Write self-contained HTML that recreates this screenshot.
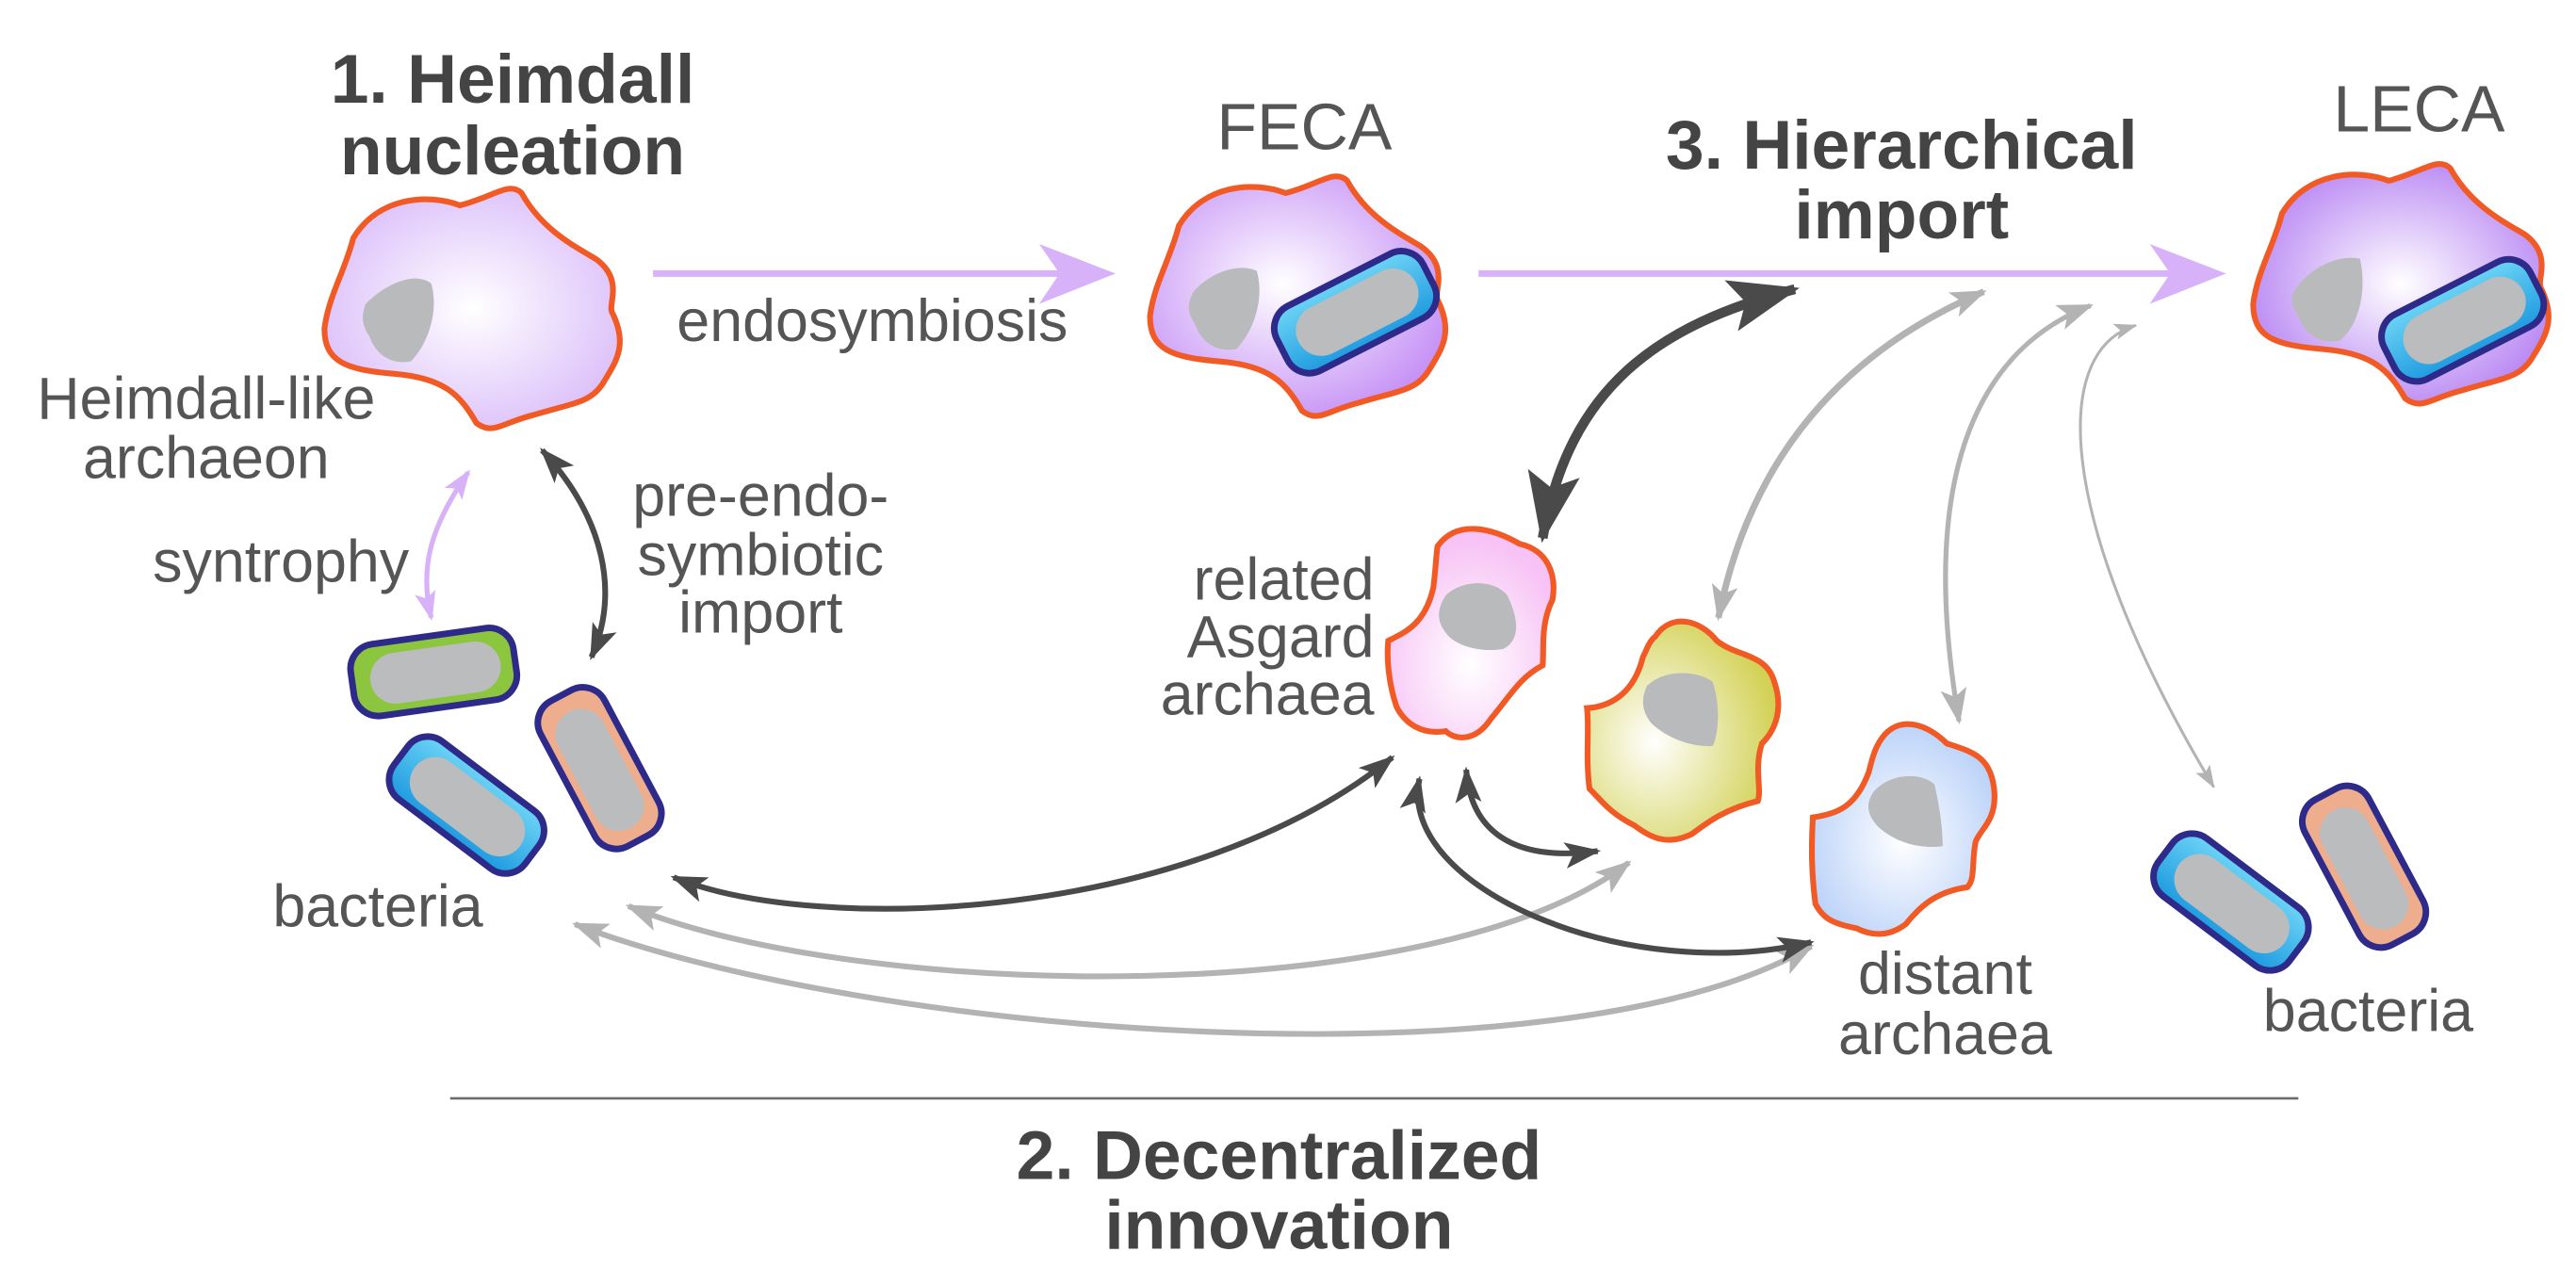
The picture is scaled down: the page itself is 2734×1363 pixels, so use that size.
<!DOCTYPE html>
<html><head><meta charset="utf-8"><style>
html,body{margin:0;padding:0;background:#fff;}
svg{display:block;}
text{font-family:"Liberation Sans",Arial,sans-serif;fill:#4a4a4a;}
.b{font-weight:bold;font-size:84px;fill:#444;}
.l{font-size:72px;fill:#555;}
</style></head><body>
<svg width="2734" height="1363" viewBox="0 0 3136 1563" preserveAspectRatio="none" xmlns="http://www.w3.org/2000/svg">
<defs>
<radialGradient id="gH" cx="50%" cy="50%" r="55%"><stop offset="0" stop-color="#ffffff"/><stop offset="1" stop-color="#dcc0fa"/></radialGradient>
<radialGradient id="gF" cx="45%" cy="45%" r="60%"><stop offset="0" stop-color="#ffffff"/><stop offset="1" stop-color="#c692f6"/></radialGradient>
<radialGradient id="gL" cx="50%" cy="50%" r="60%"><stop offset="0" stop-color="#ffffff"/><stop offset="1" stop-color="#b27cf2"/></radialGradient>
<radialGradient id="gP" cx="50%" cy="65%" r="60%"><stop offset="0" stop-color="#ffffff"/><stop offset="1" stop-color="#f7c2f5"/></radialGradient>
<radialGradient id="gY" cx="35%" cy="55%" r="65%"><stop offset="0" stop-color="#ffffff"/><stop offset="1" stop-color="#d2d154"/></radialGradient>
<radialGradient id="gB" cx="50%" cy="55%" r="60%"><stop offset="0" stop-color="#ffffff"/><stop offset="1" stop-color="#b6cff8"/></radialGradient>
<linearGradient id="gBl" x1="0" y1="0" x2="0" y2="1"><stop offset="0" stop-color="#6cd3f5"/><stop offset="1" stop-color="#1f9be0"/></linearGradient>
<marker id="aD" markerUnits="userSpaceOnUse" markerWidth="60" markerHeight="60" refX="40" refY="20" orient="auto-start-reverse" viewBox="0 0 60 40"><path d="M0,4 L44,20 L0,36 L10,20Z" fill="#4a4a4a"/></marker>
<marker id="aDL" markerUnits="userSpaceOnUse" markerWidth="100" markerHeight="80" refX="80" refY="36" orient="auto-start-reverse" viewBox="0 0 100 72"><path d="M0,4 L86,36 L0,68 L18,36Z" fill="#4a4a4a"/></marker>
<marker id="aG" markerUnits="userSpaceOnUse" markerWidth="60" markerHeight="60" refX="40" refY="20" orient="auto-start-reverse" viewBox="0 0 60 40"><path d="M0,4 L44,20 L0,36 L10,20Z" fill="#b3b3b3"/></marker>
<marker id="aGs" markerUnits="userSpaceOnUse" markerWidth="40" markerHeight="30" refX="26" refY="12" orient="auto-start-reverse" viewBox="0 0 40 24"><path d="M0,2 L28,12 L0,22 L6,12Z" fill="#b3b3b3"/></marker>
<marker id="aP" markerUnits="userSpaceOnUse" markerWidth="50" markerHeight="40" refX="32" refY="16" orient="auto-start-reverse" viewBox="0 0 50 32"><path d="M0,3 L36,16 L0,29 L8,16Z" fill="#d7b2f8"/></marker>
<path id="bigblob" d="M430,290 C460,240 520,235 560,250 C600,240 620,220 635,235 C660,280 700,300 725,315 C760,340 740,370 745,380 C765,420 750,440 735,465 C720,490 700,490 650,505 C610,515 600,530 580,515 C560,480 540,460 480,455 C420,450 395,440 395,400 C400,360 420,330 430,290Z"/>
<g id="bact"><rect x="-100" y="-44" width="200" height="88" rx="30" stroke="#2e2a8a" stroke-width="8"/><rect x="-78" y="-30" width="160" height="62" rx="31" fill="#bbbcbe"/></g>
</defs>

<text class="b" x="624" y="125" text-anchor="middle">1. Heimdall</text>
<text class="b" x="624" y="212" text-anchor="middle">nucleation</text>
<text class="b" x="2315" y="205" text-anchor="middle">3. Hierarchical</text>
<text class="b" x="2315" y="290" text-anchor="middle">import</text>
<text class="b" x="1557" y="1435" text-anchor="middle">2. Decentralized</text>
<text class="b" x="1557" y="1520" text-anchor="middle">innovation</text>
<text x="1588" y="182" text-anchor="middle" style="font-size:80px;fill:#555">FECA</text>
<text x="2945" y="160" text-anchor="middle" style="font-size:80px;fill:#555">LECA</text>

<text class="l" x="1062" y="415" text-anchor="middle">endosymbiosis</text>
<text class="l" x="251" y="510" text-anchor="middle">Heimdall-like</text>
<text class="l" x="251" y="582" text-anchor="middle">archaeon</text>
<text class="l" x="498" y="708" text-anchor="end">syntrophy</text>
<text class="l" x="926" y="628" text-anchor="middle">pre-endo-</text>
<text class="l" x="926" y="700" text-anchor="middle">symbiotic</text>
<text class="l" x="926" y="770" text-anchor="middle">import</text>
<text class="l" x="460" y="1128" text-anchor="middle">bacteria</text>
<text class="l" x="1673" y="730" text-anchor="end">related</text>
<text class="l" x="1673" y="800" text-anchor="end">Asgard</text>
<text class="l" x="1673" y="870" text-anchor="end">archaea</text>
<text class="l" x="2368" y="1210" text-anchor="middle">distant</text>
<text class="l" x="2368" y="1283" text-anchor="middle">archaea</text>
<text class="l" x="2883" y="1255" text-anchor="middle">bacteria</text>

<line x1="548" y1="1337" x2="2798" y2="1337" stroke="#6b6b6b" stroke-width="3"/>

<line x1="795" y1="333" x2="1300" y2="333" stroke="#d7b2f8" stroke-width="8"/>
<path d="M1265,297 L1358,333 L1265,370 L1290,333Z" fill="#d7b2f8"/>
<line x1="1800" y1="333" x2="2650" y2="333" stroke="#d7b2f8" stroke-width="8"/>
<path d="M2617,297 L2710,333 L2617,370 L2642,333Z" fill="#d7b2f8"/>

<use href="#bigblob" fill="url(#gH)" stroke="#f15a24" stroke-width="7"/>
<path d="M445,370 C470,345 505,330 525,345 C535,380 520,420 500,440 C470,445 455,425 450,410 C440,395 440,385 445,370Z" fill="#b9babc"/>

<g transform="translate(1005,-15)"><use href="#bigblob" fill="url(#gF)" stroke="#f15a24" stroke-width="7"/>
<path d="M448,370 C470,345 505,335 525,345 C535,380 520,420 500,440 C470,445 455,425 450,410 C440,395 440,385 448,370Z" fill="#b9babc"/></g>
<g transform="translate(1650,380) rotate(-27)" fill="url(#gBl)"><use href="#bact"/></g>

<g transform="translate(2348,-30)"><use href="#bigblob" fill="url(#gL)" stroke="#f15a24" stroke-width="7"/>
<path d="M448,380 C470,350 505,340 525,345 C535,390 520,430 500,445 C470,450 455,430 450,415 C440,400 440,390 448,380Z" fill="#b9babc"/></g>
<g transform="translate(2998,390) rotate(-27)" fill="url(#gBl)"><use href="#bact"/></g>

<path d="M1750,665 C1775,630 1820,645 1850,662 C1885,670 1895,700 1890,730 C1875,760 1880,790 1878,810 C1850,825 1840,845 1815,875 C1795,905 1770,900 1760,890 C1730,895 1710,880 1700,860 C1690,830 1688,800 1690,780 C1710,770 1735,760 1745,715 C1748,690 1748,680 1750,665Z" fill="url(#gP)" stroke="#f15a24" stroke-width="7"/>
<path d="M1760,725 C1780,705 1820,705 1835,725 C1850,755 1850,780 1830,790 C1800,795 1770,785 1760,770 C1748,755 1750,740 1760,725Z" fill="#b9babc"/>
<path d="M2015,775 C2035,745 2070,755 2090,780 C2115,800 2150,795 2160,830 C2172,865 2160,890 2145,905 C2135,935 2145,960 2140,975 C2100,985 2080,1000 2060,1015 C2030,1030 2010,1020 1990,1005 C1960,990 1950,975 1935,960 C1930,920 1935,890 1932,862 C1965,860 1990,840 2000,800 C2005,790 2008,780 2015,775Z" fill="url(#gY)" stroke="#f15a24" stroke-width="7"/>
<path d="M2005,835 C2025,815 2065,815 2085,830 C2095,860 2092,895 2085,908 C2055,910 2025,895 2010,880 C1998,865 1998,850 2005,835Z" fill="#b9babc"/>
<path d="M2290,900 C2310,870 2345,880 2370,905 C2400,915 2425,920 2428,965 C2430,1000 2410,1010 2405,1025 C2400,1050 2405,1070 2395,1080 C2360,1085 2340,1100 2320,1125 C2300,1140 2280,1140 2260,1130 C2235,1125 2220,1120 2210,1100 C2205,1060 2205,1030 2207,995 C2240,990 2260,980 2275,940 C2280,920 2283,910 2290,900Z" fill="url(#gB)" stroke="#f15a24" stroke-width="7"/>
<path d="M2280,965 C2300,940 2340,940 2355,955 C2362,985 2365,1010 2365,1030 C2330,1035 2300,1020 2285,1005 C2272,990 2272,978 2280,965Z" fill="#b9babc"/>

<g transform="translate(528,818) rotate(-8)" fill="#8cc63f"><use href="#bact"/></g>
<g transform="translate(568,980) rotate(37)" fill="url(#gBl)"><use href="#bact"/></g>
<g transform="translate(730,935) rotate(62)" fill="#eeae8e"><use href="#bact"/></g>
<g transform="translate(2716,1098) rotate(37)" fill="url(#gBl)"><use href="#bact"/></g>
<g transform="translate(2878,1055) rotate(62)" fill="#eeae8e"><use href="#bact"/></g>

<path d="M570,575 C525,640 510,690 525,752" fill="none" stroke="#d7b2f8" stroke-width="6" marker-start="url(#aP)" marker-end="url(#aP)"/>
<path d="M660,548 C735,630 755,720 720,800" fill="none" stroke="#4a4a4a" stroke-width="7" marker-start="url(#aD)" marker-end="url(#aD)"/>
<path d="M820,1068 C1000,1140 1450,1120 1695,922" fill="none" stroke="#4a4a4a" stroke-width="7" marker-start="url(#aD)" marker-end="url(#aD)"/>
<path d="M765,1103 C1050,1220 1750,1230 1983,1050" fill="none" stroke="#b3b3b3" stroke-width="7" marker-start="url(#aG)" marker-end="url(#aG)"/>
<path d="M700,1125 C1050,1260 1900,1330 2205,1152" fill="none" stroke="#b3b3b3" stroke-width="7" marker-start="url(#aG)" marker-end="url(#aG)"/>
<path d="M1785,937 C1790,1010 1840,1050 1945,1036" fill="none" stroke="#4a4a4a" stroke-width="7" marker-start="url(#aD)" marker-end="url(#aD)"/>
<path d="M1728,948 C1700,1080 1980,1200 2205,1147" fill="none" stroke="#4a4a4a" stroke-width="7" marker-start="url(#aD)" marker-end="url(#aD)"/>
<path d="M2185,352 C2020,395 1910,470 1878,655" fill="none" stroke="#4a4a4a" stroke-width="12" marker-start="url(#aDL)" marker-end="url(#aDL)"/>
<path d="M2415,355 C2240,430 2130,560 2092,752" fill="none" stroke="#b3b3b3" stroke-width="8" marker-start="url(#aG)" marker-end="url(#aG)"/>
<path d="M2545,372 C2420,420 2330,560 2385,878" fill="none" stroke="#b3b3b3" stroke-width="6" marker-start="url(#aG)" marker-end="url(#aG)"/>
<path d="M2600,396 C2490,430 2510,650 2695,958" fill="none" stroke="#b3b3b3" stroke-width="3.5" marker-start="url(#aGs)" marker-end="url(#aGs)"/>
</svg>
</body></html>
